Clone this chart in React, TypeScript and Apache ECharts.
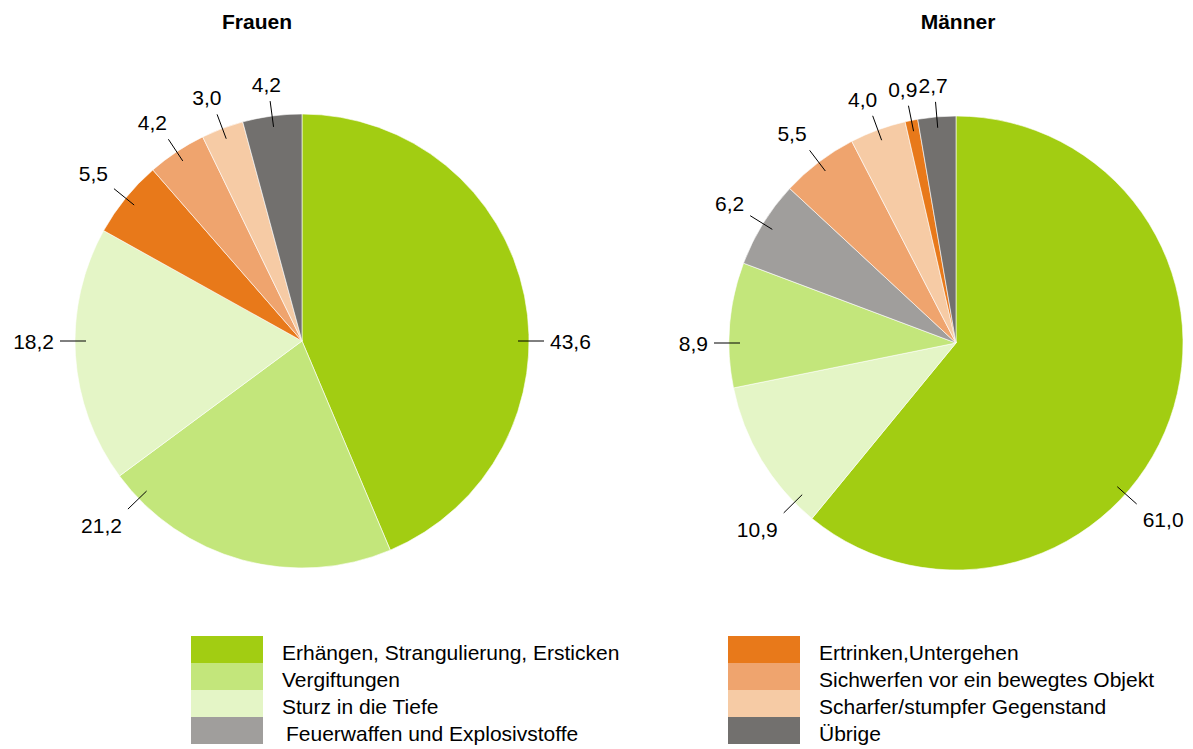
import React, { useEffect, useRef } from "react";
import * as echarts from "echarts";

// ---- Data ----
const categories = [
  "Erhängen, Strangulierung, Ersticken",
  "Vergiftungen",
  "Sturz in die Tiefe",
  "Feuerwaffen und Explosivstoffe",
  "Ertrinken,Untergehen",
  "Sichwerfen vor ein bewegtes Objekt",
  "Scharfer/stumpfer Gegenstand",
  "Übrige",
];
const categoryColors = [
  "#a2cd12",
  "#c3e67b",
  "#e4f5c6",
  "#a09e9c",
  "#e8791a",
  "#efa46e",
  "#f6cba5",
  "#72706e",
];

const frauenCategories = [
  "Erhängen, Strangulierung, Ersticken",
  "Vergiftungen",
  "Sturz in die Tiefe",
  "Ertrinken,Untergehen",
  "Sichwerfen vor ein bewegtes Objekt",
  "Scharfer/stumpfer Gegenstand",
  "Übrige",
];
const frauenValues = [43.6, 21.2, 18.2, 5.5, 4.2, 3.0, 4.2];

const maennerCategories = [
  "Erhängen, Strangulierung, Ersticken",
  "Sturz in die Tiefe",
  "Vergiftungen",
  "Feuerwaffen und Explosivstoffe",
  "Sichwerfen vor ein bewegtes Objekt",
  "Scharfer/stumpfer Gegenstand",
  "Ertrinken,Untergehen",
  "Übrige",
];
const maennerValues = [61.0, 10.9, 8.9, 6.2, 5.5, 4.0, 0.9, 2.7];

const legendLeftItems = categories.slice(0, 4);
const legendRightItems = categories.slice(4);

// ---- Layout / style ----
const FONT = "'Liberation Sans', Arial, Helvetica, sans-serif";
const W = 1193;
const H = 749;

// Label anchor angle tweaks (degrees clockwise from 12 o'clock), mimicking the original's "best fit"
const frauenLabelAngle: Record<string, number> = {
  "Erhängen, Strangulierung, Ersticken": 90,
  Vergiftungen: 226,
  "Sturz in die Tiefe": 270,
};
const maennerLabelAngle: Record<string, number> = {
  "Erhängen, Strangulierung, Ersticken": 131.7,
  "Sturz in die Tiefe": 225.4,
  Vergiftungen: 270,
};

const colorOf = (name: string) => categoryColors[categories.indexOf(name)];
const fmt = (v: number) => v.toFixed(1).replace(".", ",");

function makePies(
  id: string,
  cats: string[],
  vals: number[],
  cx: number,
  cy: number,
  r: number,
  angleOverride: Record<string, number>
) {
  const total = vals.reduce((a, b) => a + b, 0);
  const mids: number[] = [];
  let acc = 0;
  vals.forEach((v) => {
    mids.push(((acc + v / 2) / total) * 360);
    acc += v;
  });
  const base = {
    type: "pie",
    center: [cx, cy],
    radius: r,
    startAngle: 90,
    clockwise: true,
    avoidLabelOverlap: false,
    silent: true,
  };
  const fill = {
    ...base,
    id: id + "-fill",
    z: 2,
    itemStyle: { borderColor: "#ffffff", borderWidth: 0.6 },
    label: { show: false },
    labelLine: { show: false },
    data: cats.map((c, i) => ({
      name: c,
      value: vals[i],
      itemStyle: { color: colorOf(c) },
    })),
  };
  const labels = {
    ...base,
    id: id + "-labels",
    z: 5,
    itemStyle: { color: "rgba(0,0,0,0)", borderWidth: 0 },
    label: {
      show: true,
      position: "outside",
      formatter: (p: any) => fmt(p.value),
      color: "#000",
      fontSize: 21,
      fontFamily: FONT,
    },
    labelLine: {
      show: true,
      length: 15,
      length2: 0,
      lineStyle: { color: "#000", width: 1 },
    },
    labelLayout: (params: any) => {
      const i = params.dataIndex;
      const name = cats[i];
      const deg = angleOverride[name] != null ? angleOverride[name] : mids[i];
      const rad = (deg * Math.PI) / 180;
      const dx = Math.sin(rad);
      const dy = -Math.cos(rad);
      const p0 = [cx + (r - 11) * dx, cy + (r - 11) * dy];
      const p1 = [cx + (r + 15) * dx, cy + (r + 15) * dy];
      const w = params.labelRect ? params.labelRect.width : 42;
      const h = params.labelRect ? params.labelRect.height : 22;
      const g = 6;
      const k = Math.SQRT1_2;
      const fx = Math.sign(dx) * Math.min(1, Math.abs(dx) / k);
      const fy = Math.sign(dy) * Math.min(1, Math.abs(dy) / k);
      return {
        x: p1[0] + fx * (w / 2 + g),
        y: p1[1] + fy * (h / 2 + g),
        align: "center",
        verticalAlign: "middle",
        labelLinePoints: [p0, p1, p1],
      };
    },
    data: cats.map((c, i) => ({ name: c, value: vals[i] })),
  };
  return [fill, labels];
}

const legendRich = {
  t: {
    fontSize: 21,
    fontFamily: FONT,
    color: "#000",
    lineHeight: 21,
    padding: [6, 0, 0, 14],
  },
  f: {
    fontSize: 21,
    fontFamily: FONT,
    color: "#000",
    lineHeight: 21,
    padding: [5, 0, 0, 18],
  },
};

const legendCommon = {
  orient: "vertical",
  top: 636,
  height: 140,
  itemWidth: 72,
  itemHeight: 27,
  itemGap: 0,
  icon: "rect",
  selectedMode: false,
  padding: 0,
  itemStyle: { borderWidth: 0 },
  formatter: (name: string) =>
    name === "Feuerwaffen und Explosivstoffe" ? `{f|${name}}` : `{t|${name}}`,
  textStyle: {
    fontSize: 21,
    fontFamily: FONT,
    color: "#000",
    rich: legendRich,
  },
};

export default function App() {
  const ref = useRef<HTMLDivElement>(null);
  useEffect(() => {
    document.body.style.margin = "0";
    if (!ref.current) return;
    const chart = echarts.init(ref.current, null, { renderer: "svg" });
    chart.setOption({
      animation: false,
      backgroundColor: "#ffffff",
      graphic: [
        {
          type: "text",
          x: 257,
          y: 21,
          style: {
            text: "Frauen",
            align: "center",
            verticalAlign: "middle",
            font: `bold 21px ${FONT}`,
            fill: "#000",
          },
        },
        {
          type: "text",
          x: 958,
          y: 21,
          style: {
            text: "Männer",
            align: "center",
            verticalAlign: "middle",
            font: `bold 21px ${FONT}`,
            fill: "#000",
          },
        },
      ],
      legend: [
        { ...legendCommon, left: 191, data: legendLeftItems },
        { ...legendCommon, left: 728, data: legendRightItems },
      ],
      series: [
        ...makePies("frauen", frauenCategories, frauenValues, 302, 341, 227, frauenLabelAngle),
        ...makePies("maenner", maennerCategories, maennerValues, 956, 343, 227, maennerLabelAngle),
      ],
    });
    return () => chart.dispose();
  }, []);
  return <div ref={ref} style={{ width: W, height: H }} />;
}
